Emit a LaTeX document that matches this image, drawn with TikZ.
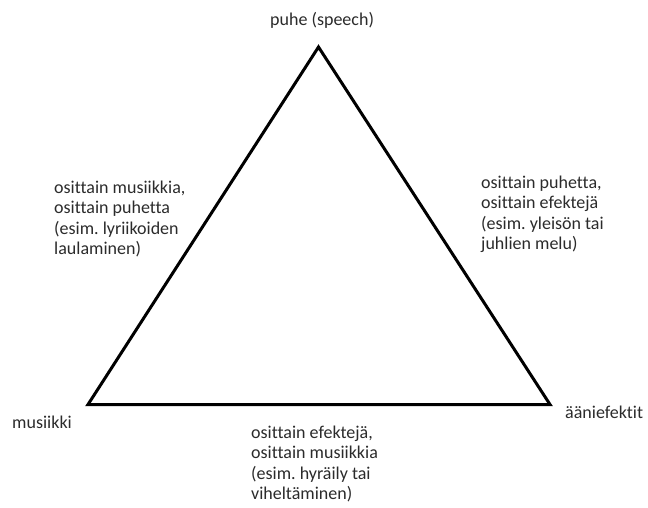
\documentclass[tikz,border=0pt]{standalone}
\usepackage{fontspec}
\setmainfont{Carlito}[Ligatures={NoCommon}]
\frenchspacing
\definecolor{txt}{HTML}{2B2B2B}
\begin{document}
\begin{tikzpicture}[x=1pt,y=-1pt,
  lbl/.style={inner sep=0pt, anchor=base west, align=left, text=txt,
    font=\fontsize{18}{20.5}\selectfont},
  edge/.style={draw=black, line width=3pt, line join=miter}]
\useasboundingbox (0,0) rectangle (648,507);
\coordinate (top) at (318.5,47);
\coordinate (left) at (88,404.5);
\coordinate (right) at (550,404.5);
\draw[edge] (top) -- (left) -- (right) -- cycle;
\node[lbl] (speech) at (270,25) {puhe (speech)};
\node[lbl] (music) at (12,428) {musiikki};
\node[lbl] (fx) at (565,418) {ääniefektit};
\node[lbl] (ml) at (54,254.5) {osittain musiikkia,\\osittain puhetta\\(esim. lyriikoiden\\laulaminen)};
\node[lbl] (mr) at (481,249.5) {osittain puhetta,\\osittain efektejä\\(esim. yleisön tai\\juhlien melu)};
\node[lbl] (mb) at (251,499.5) {osittain efektejä,\\osittain musiikkia\\(esim. hyräily tai\\viheltäminen)};
\end{tikzpicture}
\end{document}
